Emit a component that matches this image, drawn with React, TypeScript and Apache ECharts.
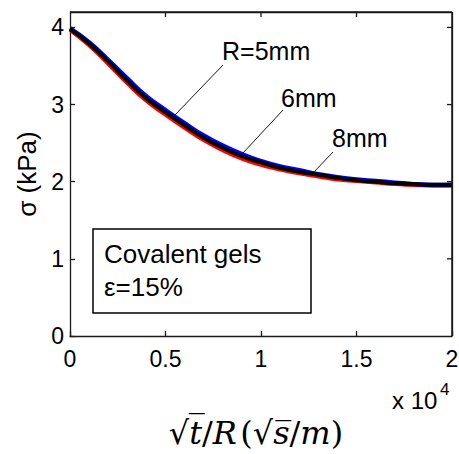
import React, { useEffect, useRef } from "react";
import * as echarts from "echarts";

// x in units of 10^4 sqrt(s)/m
const xValues = [0, 0.1, 0.2, 0.3, 0.4, 0.5, 0.6, 0.7, 0.8, 0.9, 1.0, 1.1, 1.2, 1.3, 1.4, 1.5, 1.6, 1.7, 1.8, 1.9, 2.0];
// sigma (kPa)
const sigmaBlue = [3.99, 3.81, 3.58, 3.34, 3.11, 2.93, 2.76, 2.6, 2.47, 2.36, 2.27, 2.2, 2.15, 2.1, 2.06, 2.03, 2.01, 1.99, 1.97, 1.96, 1.96];
const sigmaBlack = [3.98, 3.79, 3.56, 3.31, 3.08, 2.9, 2.73, 2.57, 2.44, 2.33, 2.25, 2.18, 2.13, 2.09, 2.05, 2.02, 2.0, 1.98, 1.97, 1.96, 1.96];
const sigmaRed = [3.97, 3.77, 3.53, 3.28, 3.05, 2.87, 2.7, 2.54, 2.41, 2.3, 2.22, 2.16, 2.11, 2.07, 2.03, 2.01, 1.99, 1.97, 1.96, 1.95, 1.95];
const xTicks = [0, 0.5, 1, 1.5, 2];
const xTickLabels = ["0", "0.5", "1", "1.5", "2"];
const yTicks = [0, 1, 2, 3, 4];
const yTickLabels = ["0", "1", "2", "3", "4"];
const curveLabels = ["R=5mm", "6mm", "8mm"];
const boxLines = ["Covalent gels", "ε=15%"];

const SANS = "Liberation Sans";
const X_MAX = 2;
const Y_MAX = 4.2;
const AXIS_COLOR = "#1a1a1a";
const W = 459, H = 454;
const G = { left: 70, right: 7, top: 12, bottom: 118 };

export default function App() {
  const ref = useRef<HTMLDivElement>(null);
  useEffect(() => {
    if (!ref.current) return;
    const chart = echarts.init(ref.current, undefined, { renderer: "svg" });
    const pair = (ys: number[]) => xValues.map((x, i) => [x, ys[i]]);
    const axisLine = () => ({ show: true, onZero: false, lineStyle: { color: AXIS_COLOR, width: 1.3 } });
    const tick = () => ({ show: true, inside: true, length: 5, lineStyle: { color: AXIS_COLOR, width: 1.3 } });
    const line = (name: string, ys: number[], color: string, width: number, extra: any = {}) => ({
      type: "line",
      name,
      data: pair(ys),
      smooth: true,
      showSymbol: false,
      lineStyle: { color, width },
      itemStyle: { color },
      silent: true,
      ...extra,
    });
    const txt = (x: number, y: number, text: string, size: number) => ({
      type: "text", x, y, z: 100,
      style: { text, font: `${size}px "${SANS}"`, fill: "#000", align: "left", verticalAlign: "middle" },
    });
    const seg = (x1: number, y1: number, x2: number, y2: number, w = 1, z = 100) => ({
      type: "line", z, shape: { x1, y1, x2, y2 }, style: { stroke: AXIS_COLOR, lineWidth: w },
    });

    // plot frame (mirror axes on top/right) from the grid layout
    const left = G.left, top = G.top, right = W - G.right, bottom = H - G.bottom;
    const xPix = (v: number) => left + (v / X_MAX) * (right - left);
    const yPix = (v: number) => bottom - (v / Y_MAX) * (bottom - top);
    const frame: any[] = [
      seg(left, top, right, top, 1.5, 200),
      seg(right, top, right, bottom, 1.5, 200),
    ];
    xTicks.forEach((v) => {
      if (v <= 0 || v >= X_MAX) return;
      frame.push(seg(xPix(v), top, xPix(v), top + 5, 1.3, 200));
    });
    yTicks.forEach((v) => {
      if (v <= 0) return;
      frame.push(seg(right, yPix(v), right - 5, yPix(v), 1.3, 200));
    });

    // top and right edges also drawn through the axes' scales as mark lines
    const edgeLines = {
      silent: true,
      symbol: ["none", "none"],
      label: { show: false },
      lineStyle: { color: AXIS_COLOR, width: 1.3, type: "solid" },
      data: [{ yAxis: Y_MAX }, { xAxis: X_MAX }],
    };

    chart.setOption({
      animation: false,
      backgroundColor: "#fff",
      grid: { ...G, outerBoundsMode: "none" },
      xAxis: {
        type: "value", min: 0, max: X_MAX, interval: 0.5,
        axisLine: axisLine(), axisTick: tick(), splitLine: { show: false },
        axisLabel: {
          color: "#000", fontFamily: SANS, fontSize: 23, margin: 11,
          formatter: (v: number) => xTickLabels[xTicks.indexOf(v)] ?? "",
        },
      },
      yAxis: {
        type: "value", min: 0, max: Y_MAX, interval: 1,
        axisLine: axisLine(), axisTick: tick(), splitLine: { show: false },
        axisLabel: {
          color: "#000", fontFamily: SANS, fontSize: 23, margin: 6, showMaxLabel: false,
          formatter: (v: number) => yTickLabels[yTicks.indexOf(v)] ?? "",
        },
        name: "σ (kPa)", nameLocation: "middle", nameGap: 30, nameRotate: 90,
        nameTextStyle: { color: "#000", fontFamily: SANS, fontSize: 26 },
      },
      series: [
        line("red", sigmaRed, "#ff0000", 4.2),
        line("blue", sigmaBlue, "#0000ff", 4.2),
        line("black", sigmaBlack, "#000000", 4, { markLine: edgeLines }),
      ],
      graphic: [
        seg(223, 65, 175, 115),
        seg(283, 110, 243, 153),
        seg(333, 152, 313, 173),
        txt(222, 51, curveLabels[0], 25),
        txt(281, 98, curveLabels[1], 25),
        txt(332, 138, curveLabels[2], 25),
        { type: "rect", z: 100, shape: { x: 93, y: 229, width: 218, height: 84 }, style: { fill: "none", stroke: "#000", lineWidth: 1.5 } },
        txt(104, 254, boxLines[0], 26),
        txt(104, 287, boxLines[1], 26),
        txt(392, 400, "x 10", 24),
        txt(440, 389, "4", 17),
        {
          type: "text", x: 256, y: 433, z: 100,
          style: {
            text: "{n|√}{i|t\u0305}{n|/}{i|R} {n|(√}{i|s\u0305}{n|/}{i|m}{n|)}",
            align: "center", verticalAlign: "middle",
            rich: {
              n: { fontFamily: "DejaVu Serif", fontSize: 32, fill: "#000" },
              i: { fontFamily: "DejaVu Serif", fontStyle: "italic", fontSize: 32, fill: "#000" },
            },
          },
        },
        ...frame,
      ],
    });
    return () => chart.dispose();
  }, []);
  return <div ref={ref} style={{ position: "fixed", left: 0, top: 0, width: W, height: H }} />;
}
